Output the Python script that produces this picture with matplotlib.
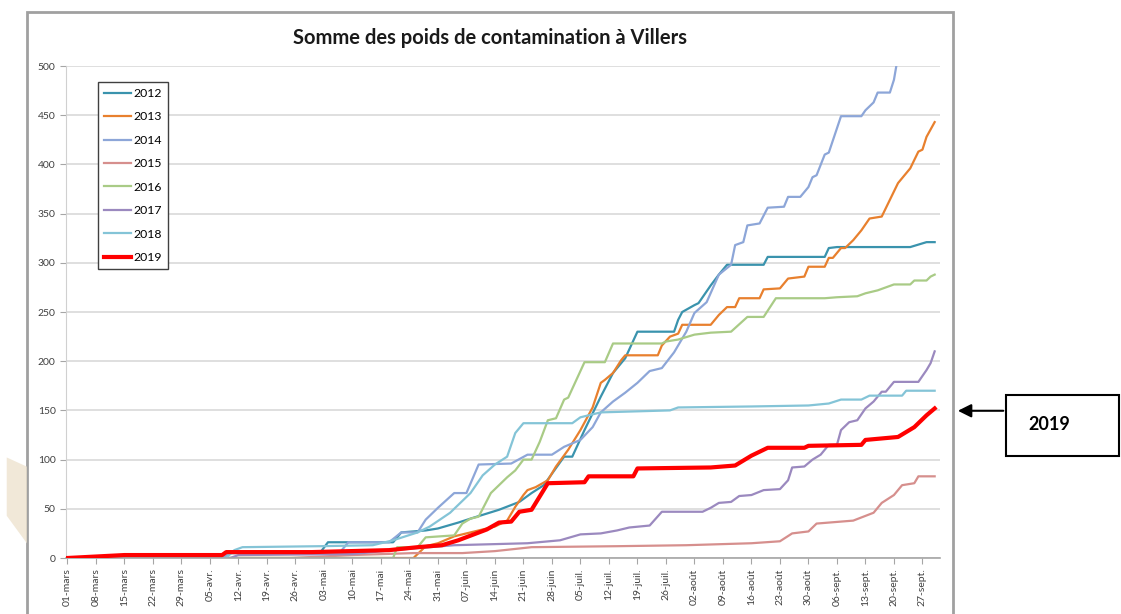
import matplotlib
matplotlib.use("Agg")
from matplotlib import pyplot as plt
from matplotlib.patches import Rectangle, Polygon
import pandas as pd

plt.rcParams['font.family'] = ['Lato', 'DejaVu Sans']

debut = pd.Timestamp("2019-03-01")

# jours comptés depuis le 01-mars, valeurs cumulées
jours_2012 = [0, 38, 40, 62, 64, 80, 82, 88, 91, 96, 99, 106, 111, 114, 117, 122, 124, 127, 131,
              134, 137, 140, 149, 150, 151, 154, 155, 158, 160, 162, 171, 172, 186, 187, 189, 207, 211, 213]
vals_2012 = [0, 0, 5, 5, 16, 16, 26, 28, 30, 36, 40, 49, 57, 66, 74, 103, 103, 130, 164,
             188, 203, 230, 230, 242, 250, 257, 259, 277, 288, 298, 298, 306, 306, 315, 316, 316, 321, 321]

jours_2013 = [0, 85, 88, 91, 95, 105, 108, 110, 112, 113, 115, 118, 120, 123, 126, 129, 131, 132, 134,
              136, 137, 145, 146, 148, 150, 151, 158, 160, 162, 164, 165, 170, 171, 175, 177, 181, 182,
              186, 187, 188, 190, 191, 193, 195, 197, 200, 202, 204, 207, 209, 210, 211, 213]
vals_2013 = [0, 0, 12, 15, 22, 32, 38, 52, 64, 69, 72, 79, 93, 110, 130, 153, 178, 181, 188,
             201, 206, 206, 216, 225, 228, 237, 237, 247, 255, 255, 264, 264, 273, 274, 284, 286, 296,
             296, 305, 305, 315, 315, 323, 333, 345, 347, 364, 381, 396, 413, 415, 428, 443]

jours_2014 = [0, 38, 40, 67, 69, 79, 82, 86, 88, 91, 95, 98, 101, 109, 113, 119, 122, 126, 129, 131,
              134, 137, 140, 143, 146, 149, 152, 154, 157, 160, 163, 164, 166, 167, 170, 172, 176, 177,
              180, 182, 183, 184, 186, 187, 190, 195, 196, 198, 199, 202, 203, 204]
vals_2014 = [0, 0, 5, 6, 16, 16, 26, 26, 39, 51, 66, 66, 95, 96, 105, 105, 113, 120, 133, 148,
             159, 168, 178, 190, 193, 209, 230, 249, 260, 288, 298, 318, 321, 338, 340, 356, 357, 367,
             367, 377, 387, 389, 410, 412, 449, 449, 455, 463, 473, 473, 486, 510]

jours_2015 = [0, 55, 70, 85, 97, 105, 114, 135, 152, 168, 175, 178, 182, 184, 193, 198, 200, 203,
              205, 208, 209, 213]
vals_2015 = [0, 0, 3, 5, 5, 7, 11, 12, 13, 15, 17, 25, 27, 35, 38, 46, 56, 64,
             74, 76, 83, 83]

jours_2016 = [0, 80, 81, 86, 88, 95, 97, 99, 101, 104, 108, 110, 112, 114, 116, 118, 120, 122, 123,
              125, 127, 132, 134, 146, 147, 150, 154, 158, 163, 167, 171, 174, 186, 189, 194, 196, 199,
              201, 203, 207, 208, 211, 212, 213]
vals_2016 = [0, 0, 11, 11, 21, 23, 35, 40, 42, 66, 82, 89, 100, 100, 118, 140, 142, 161, 163,
             181, 199, 199, 218, 218, 220, 222, 227, 229, 230, 245, 245, 264, 264, 265, 266, 269, 272,
             275, 278, 278, 282, 282, 286, 288]

jours_2017 = [0, 40, 42, 70, 80, 95, 113, 121, 126, 131, 135, 138, 143, 146, 156, 158, 160, 163, 165,
              168, 171, 175, 177, 178, 181, 183, 185, 187, 189, 190, 192, 194, 196, 198, 200, 201, 203,
              209, 211, 212, 213]
vals_2017 = [0, 0, 3, 4, 8, 13, 15, 18, 24, 25, 28, 31, 33, 47, 47, 51, 56, 57, 63,
             64, 69, 70, 79, 92, 93, 100, 105, 115, 115, 130, 138, 140, 152, 159, 169, 169, 179,
             179, 191, 198, 210]

jours_2018 = [0, 39, 41, 43, 62, 75, 80, 86, 89, 94, 99, 102, 105, 108, 110, 112, 124, 126, 131, 148,
              150, 168, 182, 187, 190, 195, 197, 205, 206, 213]
vals_2018 = [0, 0, 8, 11, 12, 13, 18, 26, 32, 46, 66, 84, 95, 103, 127, 137, 137, 143, 148, 150,
             153, 154, 155, 157, 161, 161, 165, 165, 170, 170]

jours_2019 = [0, 14, 38, 39, 60, 79, 86, 92, 96, 103, 106, 109, 111, 114, 118, 127, 128, 139, 140,
              158, 164, 168, 172, 181, 182, 195, 196, 204, 208, 211, 213]
vals_2019 = [0, 3, 3, 6, 6, 8, 11, 13, 18, 29, 36, 37, 47, 49, 76, 77, 83, 83, 91,
             92, 94, 104, 112, 112, 114, 115, 120, 123, 133, 145, 152]

annees = ["2012", "2013", "2014", "2015", "2016", "2017", "2018", "2019"]
jours = [jours_2012, jours_2013, jours_2014, jours_2015, jours_2016, jours_2017, jours_2018, jours_2019]
valeurs = [vals_2012, vals_2013, vals_2014, vals_2015, vals_2016, vals_2017, vals_2018, vals_2019]
couleurs = ["#3A93AD", "#E8802E", "#8DA6D8", "#D68F8D", "#A9CB86", "#9B89BF", "#84C4D7", "#FF0000"]

etiquettes = ["01-mars", "08-mars", "15-mars", "22-mars", "29-mars", "05-avr.", "12-avr.", "19-avr.",
              "26-avr.", "03-mai", "10-mai", "17-mai", "24-mai", "31-mai", "07-juin", "14-juin",
              "21-juin", "28-juin", "05-juil.", "12-juil.", "19-juil.", "26-juil.", "02-août",
              "09-août", "16-août", "23-août", "30-août", "06-sept.", "13-sept.", "20-sept.", "27-sept."]

fig = plt.figure(figsize=(11.21, 6.14), dpi=100)
ax = fig.add_axes([0.0589, 0.0912, 0.7796, 0.8013])

for annee, j, v, c in zip(annees, jours, valeurs, couleurs):
    x = debut + pd.to_timedelta(j, unit="D")
    lw = 3.0 if annee == "2019" else 1.6
    ax.plot(x, v, color=c, lw=lw, label=annee, zorder=3 if annee == "2019" else 2)

ax.set_ylim(0, 500)
ax.set_yticks(range(0, 501, 50))
ax.set_xlim(debut - pd.Timedelta(hours=8), debut + pd.Timedelta(days=214.3))
ticks = pd.date_range(debut, periods=len(etiquettes), freq="7D")
ax.set_xticks(ticks)
ax.set_xticklabels(etiquettes, rotation=90)

ax.grid(axis="y", color="#D9D9D9", lw=1.2)
ax.set_axisbelow(True)
for s in ["top", "right"]:
    ax.spines[s].set_visible(False)
ax.spines["left"].set_color("#D0D0D0")
ax.spines["bottom"].set_color("#A6A6A6")
ax.spines["bottom"].set_linewidth(1.2)
ax.tick_params(axis="both", labelsize=7.5, labelcolor="#404040", color="#A6A6A6", length=4)

leg = ax.legend(loc="upper left", bbox_to_anchor=(0.037, 0.968), fontsize=8.8, fancybox=False,
                edgecolor="#404040", framealpha=1, handlelength=2.2, handletextpad=0.2,
                labelspacing=1.02, borderaxespad=0, borderpad=0.5)
leg.get_frame().set_linewidth(1.0)

fig.text(0.437, 0.938, "Somme des poids de contamination à Villers", ha="center", va="center",
         fontsize=14.5, fontweight="bold", color="#1A1A1A")

# cadre du graphique Excel
fig.add_artist(Rectangle((0.0241, -0.02), 0.826, 1.0, transform=fig.transFigure, fill=False,
                         edgecolor="#A0A0A0", lw=2))
fig.add_artist(Polygon([(0.006, 0.255), (0.024, 0.24), (0.024, 0.115), (0.006, 0.16)],
                       closed=True, transform=fig.transFigure, color="#EEE3CF", lw=0, alpha=0.8))

# encadré 2019 avec flèche
fig.add_artist(Rectangle((0.8975, 0.258), 0.101, 0.099, transform=fig.transFigure, fill=False,
                         edgecolor="black", lw=1.5))
fig.text(0.917, 0.308, "2019", ha="left", va="center", fontsize=13, fontweight="bold")
ax.annotate("", xy=(0.852, 0.331), xycoords="figure fraction", xytext=(0.8975, 0.331),
            textcoords="figure fraction",
            arrowprops=dict(arrowstyle="-|>", color="black", lw=1.5, mutation_scale=20))

fig.savefig("out.png", dpi=100)
